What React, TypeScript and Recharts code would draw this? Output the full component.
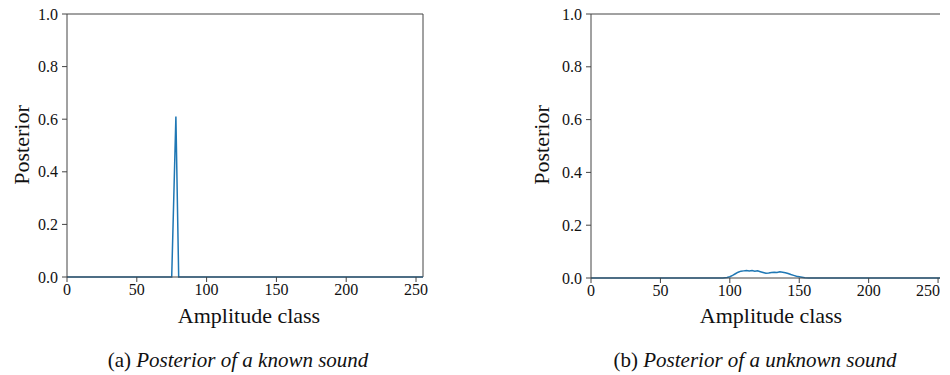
import React from "react";
import {
  LineChart,
  Line,
  XAxis,
  YAxis,
  ReferenceLine,
} from "recharts";

// Amplitude class (x) / posterior (y) pairs
const knownClass = [0, 75, 78, 80, 255];
const knownPosterior = [0, 0, 0.61, 0, 0];

const unknownClass = [
  0, 95, 98, 100, 102, 104, 106, 108, 110, 112, 114, 116, 118, 120, 122, 124,
  126, 128, 130, 132, 134, 136, 138, 140, 142, 144, 146, 148, 150, 152, 154,
  157, 255,
];
const unknownPosterior = [
  0, 0, 0.002, 0.005, 0.01, 0.016, 0.022, 0.026, 0.027, 0.028, 0.027, 0.028,
  0.026, 0.027, 0.024, 0.021, 0.018, 0.019, 0.021, 0.022, 0.021, 0.024, 0.022,
  0.02, 0.017, 0.013, 0.01, 0.007, 0.005, 0.003, 0.001, 0, 0,
];

const xTicks = [0, 50, 100, 150, 200, 250];
const yTicks = [0, 0.2, 0.4, 0.6, 0.8, 1.0];

const FONT = "Liberation Serif";
const AXIS = "#444";
const BLUE = "#1f77b4";

function Panel({
  xs,
  ys,
  left,
  plotLeft,
  plotRight,
  plotBottom,
}: {
  xs: number[];
  ys: number[];
  left: number;
  plotLeft: number;
  plotRight: number;
  plotBottom: number;
}) {
  const data = xs.map((x, i) => ({ x, y: ys[i] }));
  const width = 460;
  const height = 340;
  const yAxisWidth = 40;
  const xAxisHeight = 30;
  return (
    <div style={{ position: "absolute", left, top: 0 }}>
      <LineChart
        width={width}
        height={height}
        data={data}
        margin={{
          top: 14,
          left: plotLeft - left - yAxisWidth,
          right: width - (plotRight - left),
          bottom: height - plotBottom - xAxisHeight,
        }}
      >
        <XAxis
          dataKey="x"
          type="number"
          domain={[0, 255]}
          ticks={xTicks}
          allowDataOverflow
          height={xAxisHeight}
          stroke={AXIS}
          tickSize={5}
          tickMargin={2}
          tick={{ fill: "#111", fontSize: 16, fontFamily: FONT }}
        />
        <YAxis
          type="number"
          domain={[0, 1]}
          ticks={yTicks}
          width={yAxisWidth}
          stroke={AXIS}
          tickSize={5}
          tickMargin={4}
          tickFormatter={(v: number) => v.toFixed(1)}
          tick={{ fill: "#111", fontSize: 16, fontFamily: FONT }}
        />
        <ReferenceLine y={1} stroke={AXIS} ifOverflow="extendDomain" />
        <ReferenceLine x={255} stroke={AXIS} ifOverflow="extendDomain" />
        <Line
          dataKey="y"
          type="linear"
          stroke={BLUE}
          strokeWidth={1.5}
          dot={false}
          isAnimationActive={false}
        />
      </LineChart>
    </div>
  );
}

const labelStyle: React.CSSProperties = {
  position: "absolute",
  fontFamily: FONT,
  fontSize: 22,
  color: "#111",
  whiteSpace: "nowrap",
};

export default function App() {
  return (
    <div
      style={{
        position: "absolute",
        left: 0,
        top: 0,
        width: 950,
        height: 375,
        background: "#fff",
        overflow: "hidden",
      }}
    >
      <Panel
        xs={knownClass}
        ys={knownPosterior}
        left={0}
        plotLeft={67}
        plotRight={423}
        plotBottom={277}
      />
      <Panel
        xs={unknownClass}
        ys={unknownPosterior}
        left={480}
        plotLeft={591}
        plotRight={945}
        plotBottom={278}
      />

      <div
        style={{
          ...labelStyle,
          left: 22,
          top: 145,
          transform: "translate(-50%, -50%) rotate(-90deg)",
        }}
      >
        Posterior
      </div>
      <div
        style={{
          ...labelStyle,
          left: 542,
          top: 145,
          transform: "translate(-50%, -50%) rotate(-90deg)",
        }}
      >
        Posterior
      </div>

      <div style={{ ...labelStyle, left: 249, top: 316, transform: "translate(-50%, -50%)" }}>
        Amplitude class
      </div>
      <div style={{ ...labelStyle, left: 771, top: 316, transform: "translate(-50%, -50%)" }}>
        Amplitude class
      </div>

      <div
        style={{ ...labelStyle, fontSize: 21, left: 238, top: 360, transform: "translate(-50%, -50%)" }}
      >
        (a) <i>Posterior of a known sound</i>
      </div>
      <div
        style={{ ...labelStyle, fontSize: 21, left: 755, top: 360, transform: "translate(-50%, -50%)" }}
      >
        (b) <i>Posterior of a unknown sound</i>
      </div>
    </div>
  );
}
